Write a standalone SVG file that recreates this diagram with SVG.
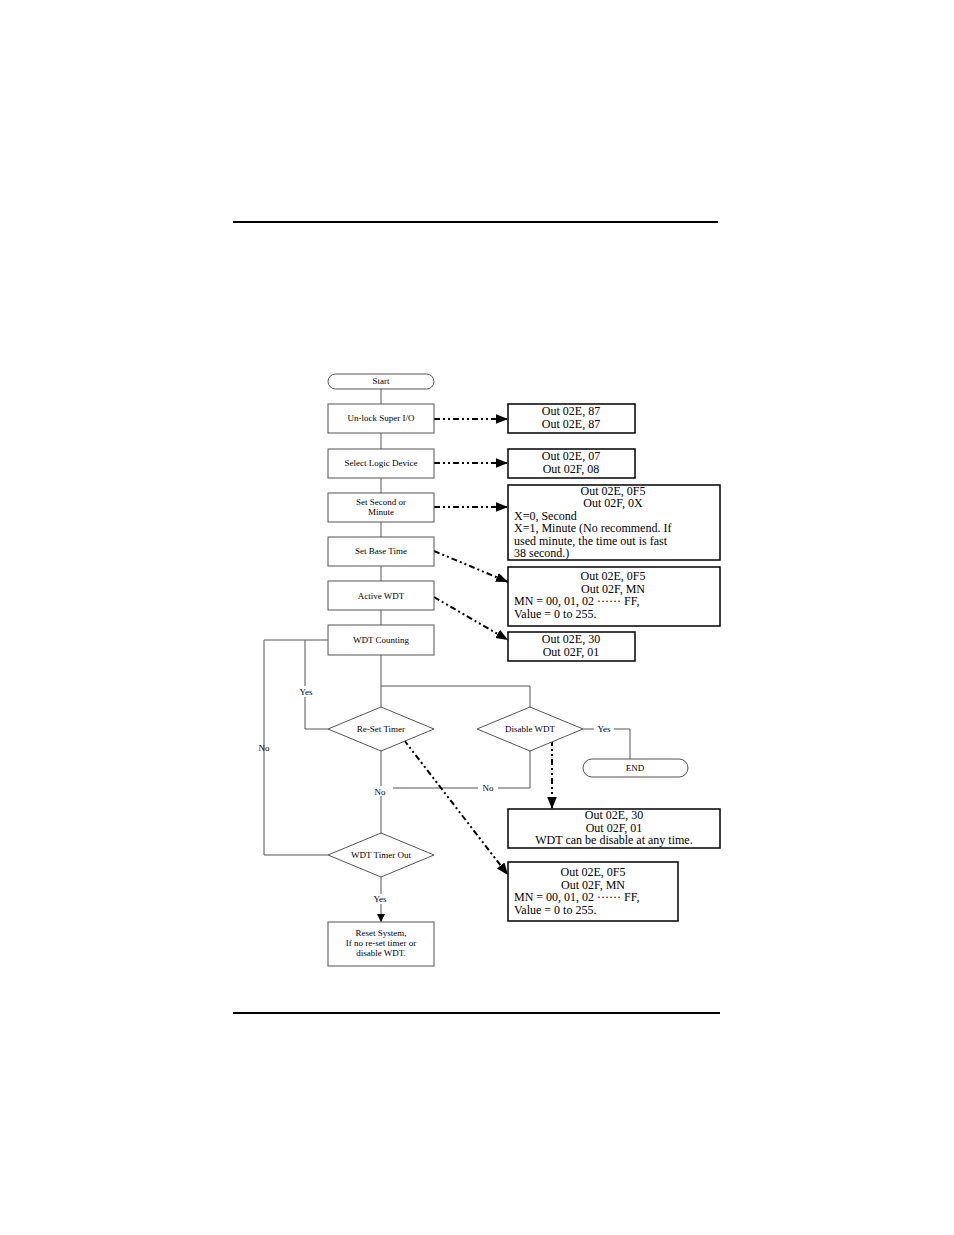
<svg xmlns="http://www.w3.org/2000/svg" width="954" height="1235" viewBox="0 0 954 1235">
<defs>
<marker id="a" viewBox="0 0 10 10" refX="10" refY="5" markerWidth="8" markerHeight="8" markerUnits="userSpaceOnUse" orient="auto"><path d="M0,0L10,5L0,10z" fill="#000"/></marker>
<marker id="b" viewBox="0 0 10 10" refX="10" refY="5" markerWidth="12" markerHeight="12" markerUnits="userSpaceOnUse" orient="auto"><path d="M0,1L10,5L0,9z" fill="#000"/></marker>
<style>
.n{fill:#fff;stroke:#555;stroke-width:1}
.o{fill:#fff;stroke:#000;stroke-width:1.5}
.s{font-family:"Liberation Serif",serif;font-size:9px;fill:#000;text-anchor:middle}
.t{font-family:"Liberation Serif",serif;font-size:12px;fill:#000}
.c{text-anchor:middle}
.l{fill:none;stroke:#555;stroke-width:1}
.d{fill:none;stroke:#000;stroke-width:2;stroke-dasharray:6,3,2,3,2,3}
</style>
</defs>
<rect width="954" height="1235" fill="#fff"/>
<line x1="233" y1="222" x2="718" y2="222" stroke="#000" stroke-width="2"/>
<line x1="233" y1="1013" x2="720" y2="1013" stroke="#000" stroke-width="2"/>
<g id="connectors">
<path class="l" marker-end="url(#a)" d="M381,389V404M381,433V449M381,478V493M381,522V537M381,566V581M381,610V625M381,655V707M381,686H530V707M328,729H305V640H328M328,855H264V640H305M583,729H630V759M530,751V788H393M381,751V833M381,877V922"/>
<path class="d" marker-end="url(#b)" d="M434,419H508"/>
<path class="d" marker-end="url(#b)" d="M434,463H508"/>
<path class="d" marker-end="url(#b)" d="M434,507H508"/>
<path class="d" marker-end="url(#b)" d="M434,551L508,582"/>
<path class="d" marker-end="url(#b)" d="M434,597L508,640"/>
<path class="d" marker-end="url(#b)" d="M404,740L508,875"/>
<path class="d" marker-end="url(#b)" d="M552,740V809"/>
<g class="s"><rect x="296" y="686" width="20" height="11" fill="#fff"/><text x="306" y="695">Yes</text>
<text x="264" y="751">No</text>
<rect x="594" y="724" width="20" height="10" fill="#fff"/><text x="604" y="732">Yes</text>
<rect x="478" y="783" width="20" height="10" fill="#fff"/><text x="488" y="791">No</text>
<rect x="370" y="786" width="20" height="10" fill="#fff"/><text x="380" y="795">No</text>
<rect x="370" y="894" width="20" height="10" fill="#fff"/><text x="380" y="902">Yes</text></g>
</g>
<g id="start"><rect class="n" x="328" y="374" width="106" height="15" rx="7.5"/><text class="s" x="381" y="384">Start</text></g>
<g id="unlock"><rect class="n" x="328" y="404" width="106" height="29"/><text class="s" x="381" y="421">Un-lock Super I/O</text></g>
<g id="select"><rect class="n" x="328" y="449" width="106" height="29"/><text class="s" x="381" y="466">Select Logic Device</text></g>
<g id="setsec"><rect class="n" x="328" y="493" width="106" height="29"/><text class="s" x="381" y="505">Set Second or</text><text class="s" x="381" y="515">Minute</text></g>
<g id="setbase"><rect class="n" x="328" y="537" width="106" height="29"/><text class="s" x="381" y="554">Set Base Time</text></g>
<g id="active"><rect class="n" x="328" y="581" width="106" height="29"/><text class="s" x="381" y="599">Active WDT</text></g>
<g id="counting"><rect class="n" x="328" y="625" width="106" height="30"/><text class="s" x="381" y="643">WDT Counting</text></g>
<g id="reset-d"><path class="n" d="M381,707L434,729L381,751L328,729z"/><text class="s" x="381" y="732">Re-Set Timer</text></g>
<g id="disable-d"><path class="n" d="M530,707L583,729L530,751L477,729z"/><text class="s" x="530" y="732">Disable WDT</text></g>
<g id="end"><rect class="n" x="583" y="759" width="105" height="18" rx="9"/><text class="s" x="635" y="771">END</text></g>
<g id="timerout-d"><path class="n" d="M381,833L434,855L381,877L328,855z"/><text class="s" x="381" y="858">WDT Timer Out</text></g>
<g id="resetsys"><rect class="n" x="328" y="922" width="106" height="44"/><text class="s" x="381" y="936">Reset System,</text><text class="s" x="381" y="946">If no re-set timer or</text><text class="s" x="381" y="956">disable WDT.</text></g>
<g id="o1"><rect class="o" x="508" y="404" width="127" height="29"/><text class="t c" x="571" y="415" text-anchor="middle">Out 02E, 87</text><text class="t" x="571" y="428" text-anchor="middle">Out 02E, 87</text></g>
<g id="o2"><rect class="o" x="508" y="449" width="127" height="29"/><text class="t" x="571" y="460" text-anchor="middle">Out 02E, 07</text><text class="t" x="571" y="473" text-anchor="middle">Out 02F, 08</text></g>
<g id="o3"><rect class="o" x="508" y="485" width="212" height="75"/><text class="t" x="613" y="495" text-anchor="middle">Out 02E, 0F5</text><text class="t" x="613" y="507" text-anchor="middle">Out 02F, 0X</text><text class="t" x="514" y="520">X=0, Second</text><text class="t" x="514" y="532">X=1, Minute (No recommend. If</text><text class="t" x="514" y="545">used minute, the time out is fast</text><text class="t" x="514" y="557">38 second.)</text></g>
<g id="o4"><rect class="o" x="508" y="567" width="212" height="59"/><text class="t" x="613" y="580" text-anchor="middle">Out 02E, 0F5</text><text class="t" x="613" y="593" text-anchor="middle">Out 02F, MN</text><text class="t" x="514" y="605">MN = 00, 01, 02 ······ FF,</text><text class="t" x="514" y="618">Value = 0 to 255.</text></g>
<g id="o5"><rect class="o" x="508" y="632" width="127" height="29"/><text class="t" x="571" y="643" text-anchor="middle">Out 02E, 30</text><text class="t" x="571" y="656" text-anchor="middle">Out 02F, 01</text></g>
<g id="o6"><rect class="o" x="508" y="809" width="212" height="39"/><text class="t" x="614" y="819" text-anchor="middle">Out 02E, 30</text><text class="t" x="614" y="832" text-anchor="middle">Out 02F, 01</text><text class="t" x="614" y="844" text-anchor="middle">WDT can be disable at any time.</text></g>
<g id="o7"><rect class="o" x="508" y="862" width="170" height="59"/><text class="t" x="593" y="876" text-anchor="middle">Out 02E, 0F5</text><text class="t" x="593" y="889" text-anchor="middle">Out 02F, MN</text><text class="t" x="514" y="901">MN = 00, 01, 02 ······ FF,</text><text class="t" x="514" y="914">Value = 0 to 255.</text></g>
</svg>
